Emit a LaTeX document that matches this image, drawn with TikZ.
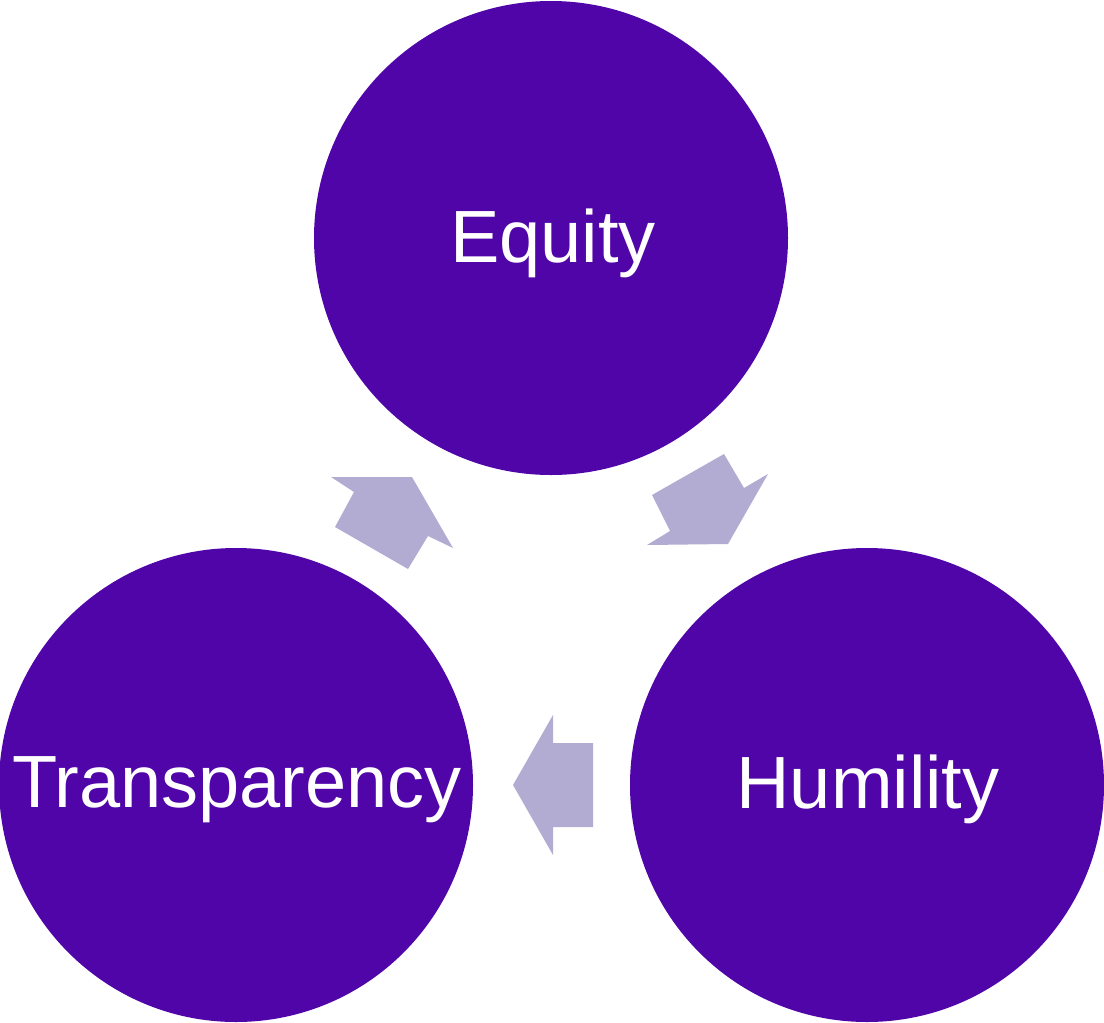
\documentclass[tikz,border=0pt]{standalone}
\usepackage{fontspec}
\setmainfont{Liberation Sans}
\definecolor{circfill}{RGB}{80,5,168}
\definecolor{arrfill}{RGB}{178,172,210}
\begin{document}
\begin{tikzpicture}[x=1pt,y=-1pt,
  bigcircle/.style={circle,fill=circfill,draw=none,minimum size=474pt,inner sep=0pt},
  label/.style={text=white,font=\fontsize{74}{80}\selectfont,anchor=base,inner sep=0pt},
  blockarrow/.style={fill=arrfill,draw=none}]
\useasboundingbox (0,0) rectangle (1104,1023);
\node[bigcircle] (eq) at (551,238) {};
\node[bigcircle] (tr) at (236,785) {};
\node[bigcircle] (hu) at (867,785) {};
\node[label] (eqt) at (553,262) {Equity};
\node[label] (trt) at (237,807) {Transparency};
\node[label] (hut) at (868,808) {Humility};
% Transparency -> Equity
\fill[blockarrow] (331,477) -- (412,477) -- (453,548) -- (428,536) -- (408,569) -- (335,527) -- (354,492) -- cycle;
% Equity -> Humility
\fill[blockarrow] (652,495) -- (724,454) -- (744,488) -- (768,474) -- (728,544) -- (647,545) -- (670,531) -- cycle;
% Humility -> Transparency
\fill[blockarrow] (513,785) -- (553,715) -- (553,743) -- (593,743) -- (593,827) -- (553,827) -- (553,855) -- cycle;
\end{tikzpicture}
\end{document}
